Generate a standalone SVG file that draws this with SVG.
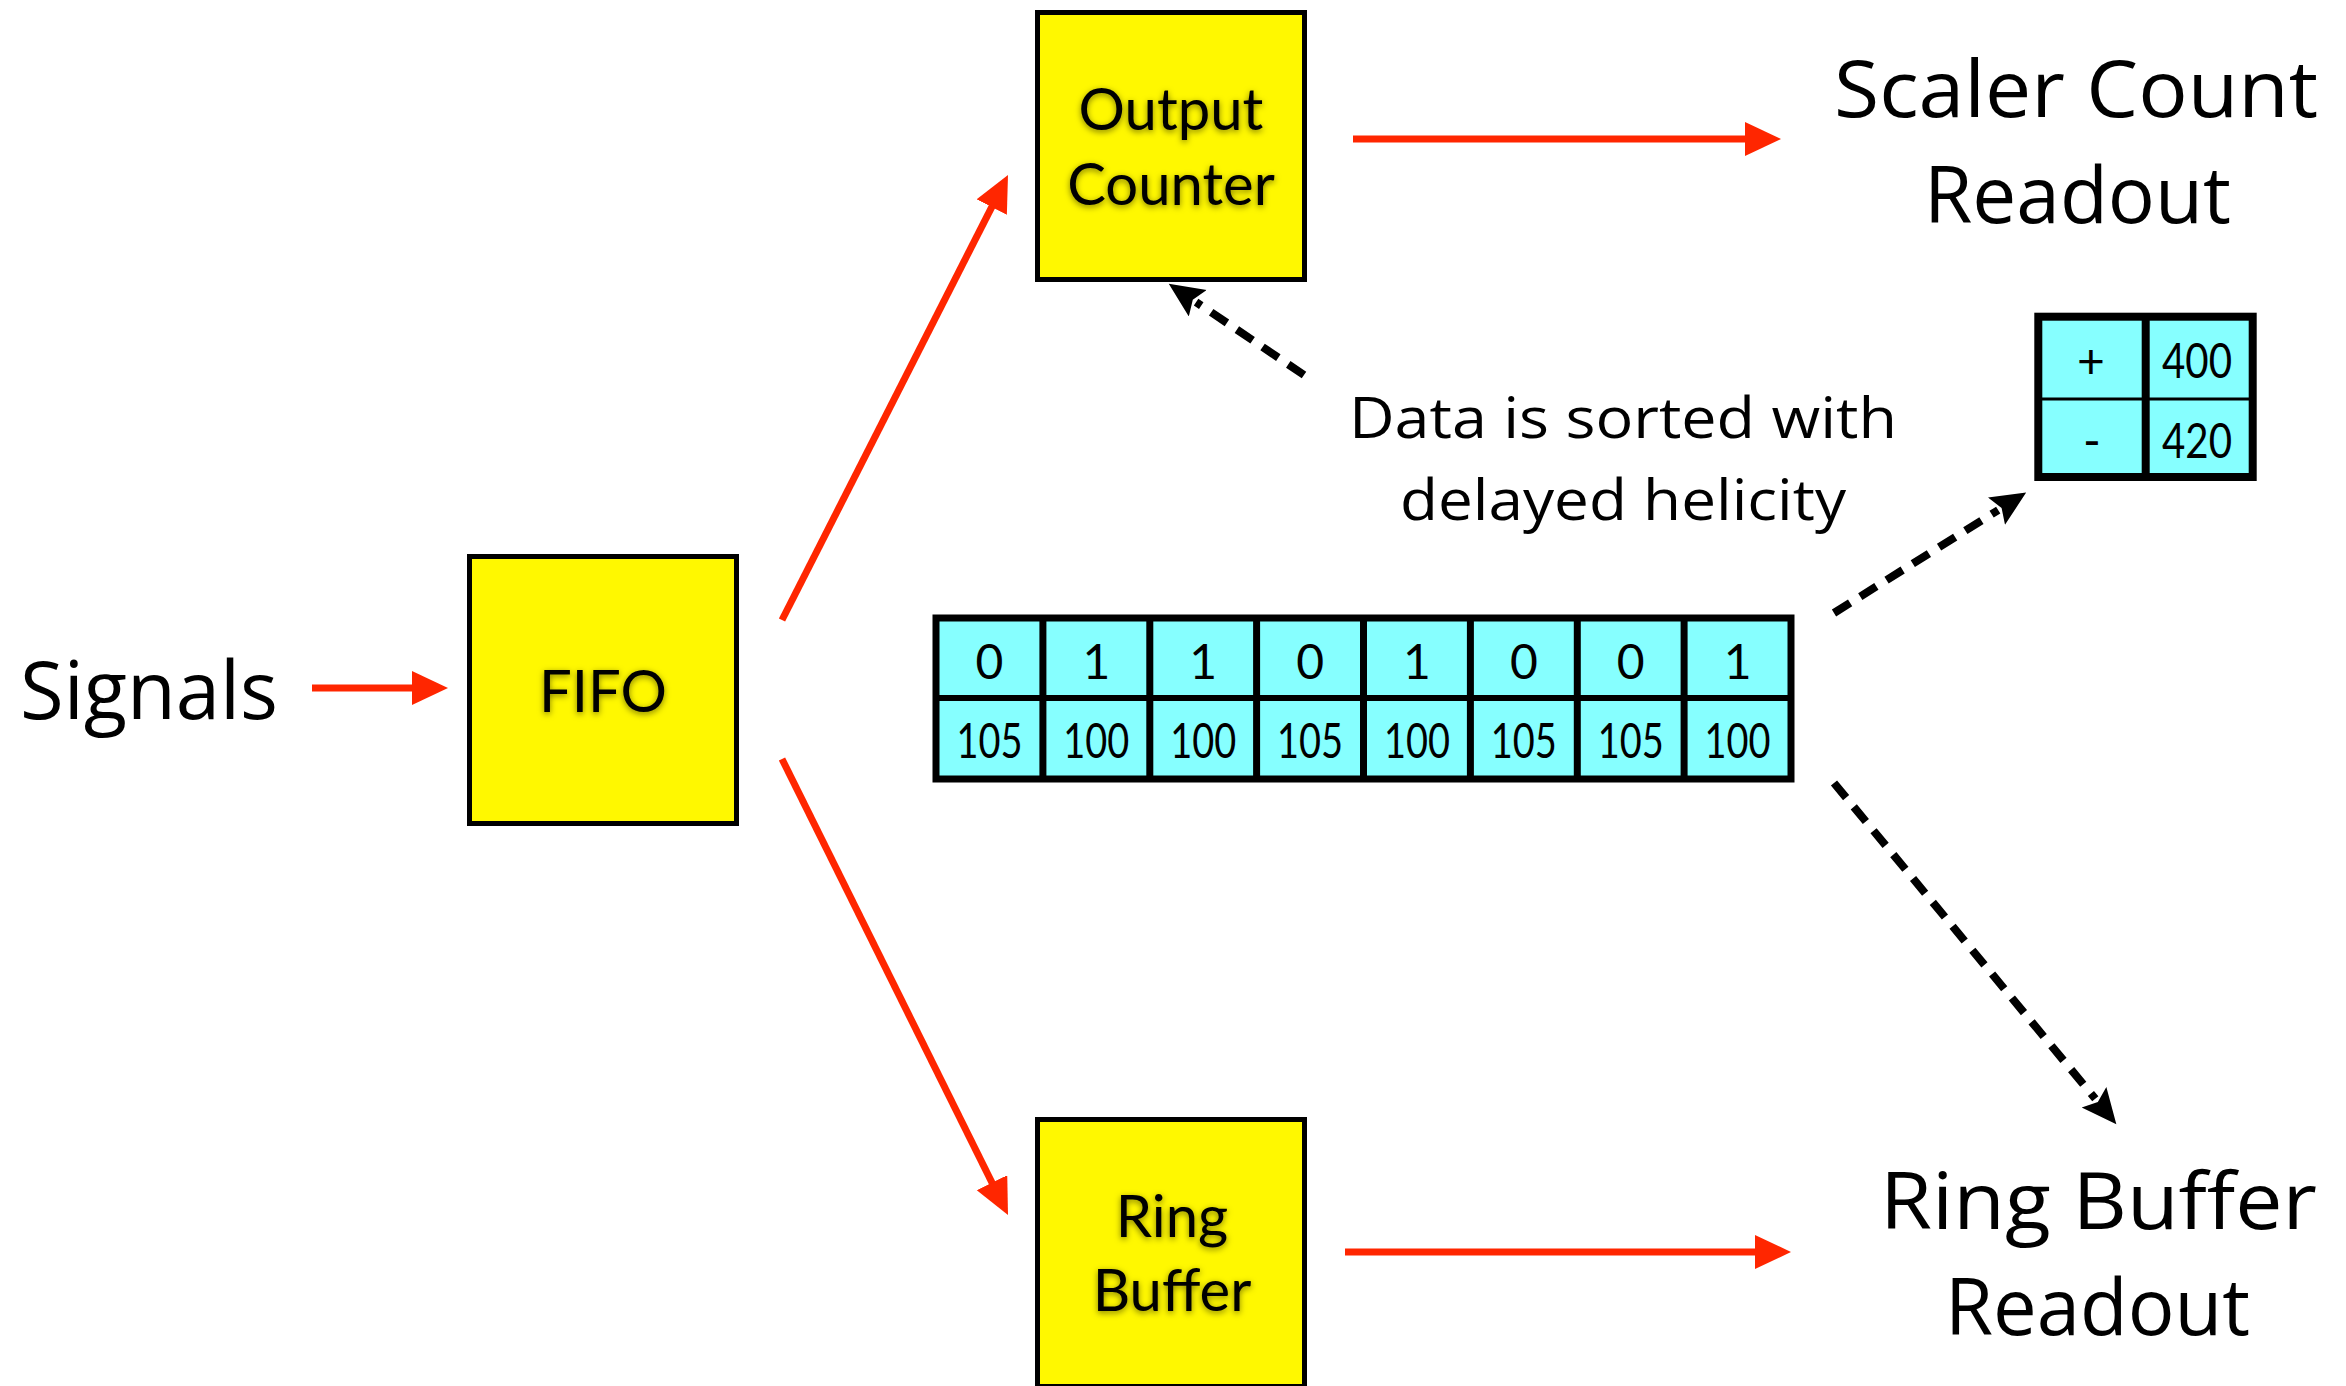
<svg xmlns="http://www.w3.org/2000/svg" width="2346" height="1386" viewBox="0 0 2346 1386">
  <defs>
    <style>
      .box { fill: #FFF800; stroke: #000; stroke-width: 5; }
      .boxlabel { font-family: Lato, "Open Sans", sans-serif; font-size: 58px; fill: #000; text-anchor: middle; }
      .cell { fill: #86FFFF; }
      .grid { stroke: #000; fill: none; }
      .num { font-family: Lato, "Open Sans", sans-serif; font-size: 48px; fill: #000; text-anchor: middle; }
      .hand { font-family: "Open Sans", "Noto Sans", sans-serif; font-weight: 500; fill: #000; }
      .red { stroke: #FF2600; stroke-width: 7; fill: none; marker-end: url(#redhead); }
      .dash { stroke: #000; stroke-width: 8; fill: none; stroke-dasharray: 19 12; marker-end: url(#blackhead); }
    </style>
    <marker id="redhead" markerUnits="userSpaceOnUse" markerWidth="40" markerHeight="40" refX="2" refY="17" orient="auto">
      <path d="M0,0 L36,17 L0,34 Z" fill="#FF2600"/>
    </marker>
    <marker id="blackhead" markerUnits="userSpaceOnUse" markerWidth="40" markerHeight="40" refX="2" refY="16" orient="auto">
      <path d="M0,0 L35,16 L0,32 L6,16 Z" fill="#000"/>
    </marker>
    <filter id="glow" x="-20%" y="-30%" width="140%" height="160%">
      <feDropShadow dx="0" dy="2" stdDeviation="3" flood-color="#000" flood-opacity="0.5"/>
    </filter>
  </defs>

  <rect width="2346" height="1386" fill="#fff"/>

  <!-- free labels -->
  <g id="signals">
    <text class="hand" x="20" y="719" font-size="80" textLength="258" lengthAdjust="spacingAndGlyphs">Signals</text>
  </g>
  <g id="scaler-readout">
    <text class="hand" x="1834" y="117" font-size="78" textLength="484" lengthAdjust="spacingAndGlyphs">Scaler Count</text>
    <text class="hand" x="1924" y="223" font-size="78" textLength="307" lengthAdjust="spacingAndGlyphs">Readout</text>
  </g>
  <g id="ring-readout">
    <text class="hand" x="1880" y="1229" font-size="78" textLength="437" lengthAdjust="spacingAndGlyphs">Ring Buffer</text>
    <text class="hand" x="1945" y="1335" font-size="78" textLength="305" lengthAdjust="spacingAndGlyphs">Readout</text>
  </g>
  <g id="sort-note">
    <text class="hand" x="1349" y="438" font-size="56" textLength="548" lengthAdjust="spacingAndGlyphs">Data is sorted with</text>
    <text class="hand" x="1400" y="520" font-size="56" textLength="446" lengthAdjust="spacingAndGlyphs">delayed helicity</text>
  </g>

  <!-- processing blocks -->
  <g id="fifo">
    <rect class="box" x="469.5" y="556.5" width="267" height="267"/>
    <text class="boxlabel" x="603" y="712" filter="url(#glow)">FIFO</text>
  </g>
  <g id="output-counter">
    <rect class="box" x="1037.5" y="12.5" width="267" height="267"/>
    <text class="boxlabel" x="1171" y="130" filter="url(#glow)">Output</text>
    <text class="boxlabel" x="1171" y="205" filter="url(#glow)">Counter</text>
  </g>
  <g id="ring-buffer">
    <rect class="box" x="1037.5" y="1119.5" width="267" height="267"/>
    <text class="boxlabel" x="1172" y="1237" filter="url(#glow)">Ring</text>
    <text class="boxlabel" x="1172" y="1311" filter="url(#glow)">Buffer</text>
  </g>

  <!-- helicity / value buffer -->
  <g id="data-table">
    <rect class="cell" x="936" y="618" width="855" height="161"/>
    <g class="grid" stroke-width="7">
      <line x1="1042.9" y1="618" x2="1042.9" y2="779"/>
      <line x1="1149.8" y1="618" x2="1149.8" y2="779"/>
      <line x1="1256.6" y1="618" x2="1256.6" y2="779"/>
      <line x1="1363.5" y1="618" x2="1363.5" y2="779"/>
      <line x1="1470.4" y1="618" x2="1470.4" y2="779"/>
      <line x1="1577.3" y1="618" x2="1577.3" y2="779"/>
      <line x1="1684.1" y1="618" x2="1684.1" y2="779"/>
      <line x1="936" y1="698" x2="1791" y2="698" stroke-width="6"/>
      <rect x="936" y="618" width="855" height="161"/>
    </g>
    <g class="num">
      <text x="989.4" y="679">0</text>
      <text x="1096.3" y="679">1</text>
      <text x="1203.2" y="679">1</text>
      <text x="1310.1" y="679">0</text>
      <text x="1417.0" y="679">1</text>
      <text x="1523.8" y="679">0</text>
      <text x="1630.7" y="679">0</text>
      <text x="1737.6" y="679">1</text>
      <text x="989.4" y="758" textLength="66" lengthAdjust="spacingAndGlyphs">105</text>
      <text x="1096.3" y="758" textLength="66" lengthAdjust="spacingAndGlyphs">100</text>
      <text x="1203.2" y="758" textLength="66" lengthAdjust="spacingAndGlyphs">100</text>
      <text x="1310.1" y="758" textLength="66" lengthAdjust="spacingAndGlyphs">105</text>
      <text x="1417.0" y="758" textLength="66" lengthAdjust="spacingAndGlyphs">100</text>
      <text x="1523.8" y="758" textLength="66" lengthAdjust="spacingAndGlyphs">105</text>
      <text x="1630.7" y="758" textLength="66" lengthAdjust="spacingAndGlyphs">105</text>
      <text x="1737.6" y="758" textLength="66" lengthAdjust="spacingAndGlyphs">100</text>
    </g>
  </g>

  <!-- helicity sums -->
  <g id="sum-table">
    <rect class="cell" x="2038.3" y="316.7" width="214.4" height="160.3"/>
    <g class="grid">
      <line x1="2145.7" y1="316.7" x2="2145.7" y2="477" stroke-width="8"/>
      <line x1="2038.3" y1="399" x2="2252.7" y2="399" stroke-width="3"/>
      <rect x="2038.3" y="316.7" width="214.4" height="160.3" stroke-width="8"/>
    </g>
    <g class="num">
      <text x="2091" y="378">+</text>
      <text x="2197" y="378" textLength="70" lengthAdjust="spacingAndGlyphs">400</text>
      <text x="2092" y="458">-</text>
      <text x="2197" y="458" textLength="70" lengthAdjust="spacingAndGlyphs">420</text>
    </g>
  </g>

  <!-- connectors -->
  <g id="connectors">
    <line class="red" x1="312" y1="688" x2="414" y2="688"/>
    <line class="red" x1="782" y1="620" x2="992.6" y2="205.3"/>
    <line class="red" x1="782" y1="759" x2="992.9" y2="1184.5"/>
    <line class="red" x1="1353" y1="139" x2="1747" y2="139"/>
    <line class="red" x1="1345" y1="1252" x2="1757" y2="1252"/>
    <line class="dash" x1="1304" y1="375" x2="1196.1" y2="302.1"/>
    <line class="dash" x1="1834" y1="613" x2="1998.2" y2="510.1"/>
    <line class="dash" x1="1834" y1="783" x2="2095.3" y2="1098.8"/>
  </g>
</svg>
